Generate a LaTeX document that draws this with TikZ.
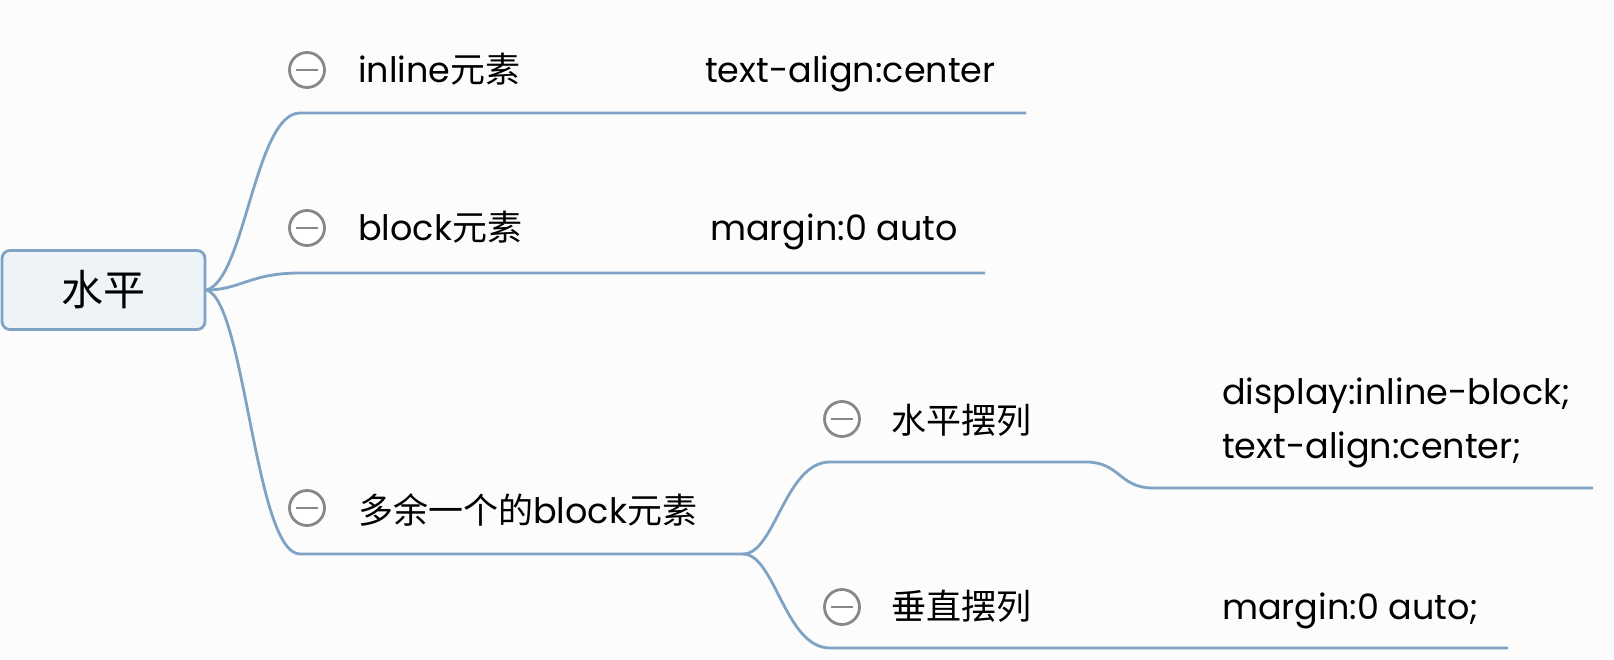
\documentclass[tikz,border=0pt]{standalone}
\usepackage{fontspec}
\setmainfont{Poppins}
\newfontfamily\cjk{Noto Sans CJK SC}
\definecolor{linec}{RGB}{127,163,196}
\definecolor{rootfill}{RGB}{238,243,248}
\definecolor{iconc}{RGB}{136,136,136}
\definecolor{bgc}{RGB}{252,252,252}
\tikzset{
  conn/.style={draw=linec, line width=2.8pt},
  rootbox/.style={draw=linec, fill=rootfill, line width=2.8pt, rounded corners=8pt,
    minimum width=203pt, minimum height=79pt, inner sep=0pt,
    font=\fontsize{42}{46}\selectfont\cjk},
  lbl/.style={anchor=base west, inner sep=0pt, font=\fontsize{35}{40}\selectfont},
  minusicon/.style={circle, draw=iconc, fill=white, line width=2.8pt, minimum size=35pt, inner sep=0pt,
    path picture={\draw[iconc, line width=2.8pt] ([xshift=-11pt]path picture bounding box.center) -- ([xshift=11pt]path picture bounding box.center);}},
}
\begin{document}
\begin{tikzpicture}[x=1pt,y=-1pt]
\useasboundingbox (0,0) rectangle (1614,659);
\fill[bgc] (0,0) rectangle (1614,659);

% root
\node[rootbox] (root) at (103.5,290) {水平};

% coordinates
\coordinate (b1s) at (300,113);
\coordinate (b1e) at (1026,113);
\coordinate (b2s) at (300,273);
\coordinate (b2e) at (985,273);
\coordinate (b3s) at (300,554);
\coordinate (j) at (743,554);
\coordinate (s1s) at (830,462);
\coordinate (s1m) at (1086,462);
\coordinate (s1n) at (1153,488);
\coordinate (s1e) at (1593,488);
\coordinate (s2s) at (830,648);
\coordinate (s2e) at (1508,648);

% connectors
\draw[conn] (root.east) .. controls (245,280) and (255,113) .. (b1s) -- (b1e);
\draw[conn] (root.east) .. controls (240,290) and (250,273) .. (b2s) -- (b2e);
\draw[conn] (root.east) .. controls (245,300) and (255,554) .. (b3s) -- (j);
\draw[conn] (j) .. controls (775,554) and (785,462) .. (s1s) -- (s1m) .. controls (1120,462) and (1119,488) .. (s1n) -- (s1e);
\draw[conn] (j) .. controls (775,554) and (785,648) .. (s2s) -- (s2e);

% icons
\node[minusicon] (i1) at (307,70) {};
\node[minusicon] (i2) at (307,228) {};
\node[minusicon] (i3) at (307,508) {};
\node[minusicon] (i4) at (842,419) {};
\node[minusicon] (i5) at (842,607) {};

% labels
\node[lbl] (t1) at (358,82) {inline{\cjk 元素}};
\node[lbl] (v1) at (705,82) {text-align:center};
\node[lbl] (t2) at (358,240) {block{\cjk 元素}};
\node[lbl] (v2) at (710,240) {margin:0 auto};
\node[lbl] (t3) at (358,523) {{\cjk 多余一个的}block{\cjk 元素}};
\node[lbl] (t4) at (891,433) {{\cjk 水平摆列}};
\node[lbl] (v4a) at (1222,404) {display:inline-block;};
\node[lbl] (v4b) at (1222,458) {text-align:center;};
\node[lbl] (t5) at (891,619) {{\cjk 垂直摆列}};
\node[lbl] (v5) at (1222,619) {margin:0 auto;};
\end{tikzpicture}
\end{document}
